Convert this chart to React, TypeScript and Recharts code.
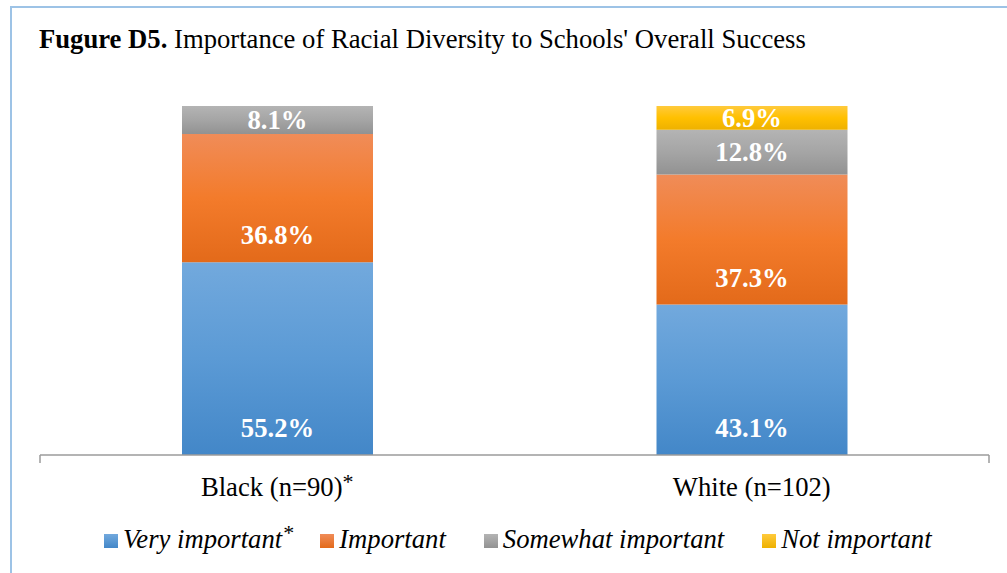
import { BarChart, Bar, XAxis, YAxis, LabelList } from 'recharts'

const groups = ['Black (n=90)', 'White (n=102)']
const groupStars = [true, false]
const veryImportant = [55.2, 43.1]
const important = [36.8, 37.3]
const somewhatImportant = [8.1, 12.8]
const notImportant = [0, 6.9]
const seriesNames = ['Very important', 'Important', 'Somewhat important', 'Not important']
const seriesStars = [true, false, false, false]
const edgeTicks = [0, 1, 2]

const SERIF = '"Liberation Serif", "Times New Roman", serif'
const FS = 26.67

// top / mid / bottom colours of each segment's vertical gradient
const GRADIENTS = [
  { id: 'gBlue', stops: ['#72a9dd', '#5b9ad5', '#4387c8'] },
  { id: 'gOrange', stops: ['#f08c58', '#f37b2b', '#e36a1a'] },
  { id: 'gGray', stops: ['#b4b4b4', '#a5a5a5', '#929292'] },
  { id: 'gYellow', stops: ['#ffca3c', '#ffc000', '#eeb100'] },
]

const data = groups.map((group, i) => ({
  group,
  star: groupStars[i],
  veryImportant: veryImportant[i],
  important: important[i],
  somewhatImportant: somewhatImportant[i],
  notImportant: notImportant[i],
}))

const seriesKeys = ['veryImportant', 'important', 'somewhatImportant', 'notImportant']

function SegmentLabel(props: any) {
  const box = props.viewBox ?? props
  const { x, y, width, height } = box
  const { value } = props
  if (!value) return null
  // Excel "inside base": sit near the bottom, centre when the segment is short
  const cy = Math.max(y + height / 2, y + height - 27)
  return (
    <text
      x={x + width / 2}
      y={cy + 9}
      textAnchor="middle"
      fill="#fff"
      fontFamily={SERIF}
      fontWeight="bold"
      fontSize={FS}
    >
      {value.toFixed(1)}%
    </text>
  )
}

function CategoryTick({ x, y, payload, index }: any) {
  return (
    <text x={x} y={y} dy="0.71em" textAnchor="middle" fill="#000" fontFamily={SERIF} fontSize={FS}>
      {payload.value}
      {groupStars[index] && <tspan dy={-7} fontSize={22}>*</tspan>}
    </text>
  )
}

// edge axis only needs its tick marks, no text
const NoLabel = () => <g />

function LegendBox() {
  return (
    <div
      style={{
        position: 'absolute', left: 104, top: 526, display: 'flex', gap: 38,
        fontFamily: SERIF, fontStyle: 'italic', fontSize: FS, lineHeight: 1, color: '#000',
      }}
    >
      {seriesNames.map((name, i) => (
        <div key={name} style={{ display: 'flex', alignItems: 'flex-start', position: 'relative' }}>
          <span
            style={{
              width: 14, height: 14, marginTop: 8, marginRight: 5, display: 'inline-block',
              background: `linear-gradient(${GRADIENTS[i].stops[0]}, ${GRADIENTS[i].stops[2]})`,
            }}
          />
          <span style={{ whiteSpace: 'nowrap' }}>{name}</span>
          {seriesStars[i] && (
            <span style={{ position: 'absolute', right: -12, top: -4, fontStyle: 'normal', fontSize: 22 }}>*</span>
          )}
        </div>
      ))}
    </div>
  )
}

export default function App() {
  return (
    <div style={{ position: 'relative', width: 1007, height: 573, background: '#fff' }}>
      <style>{'body{margin:0}'}</style>
      <div
        style={{
          position: 'absolute', left: 10, top: 6, right: 0, bottom: 0,
          borderTop: '2px solid #9dc3e6', borderLeft: '2px solid #9dc3e6',
        }}
      />
      <div
        style={{
          position: 'absolute', left: 39, top: 26, fontFamily: SERIF, fontSize: FS,
          lineHeight: 1, color: '#000', whiteSpace: 'nowrap',
        }}
      >
        <b>Fugure D5.</b> Importance of Racial Diversity to Schools' Overall Success
      </div>
      <BarChart
        width={1007}
        height={573}
        data={data}
        margin={{ top: 106, right: 18, left: 40, bottom: 70 }}
        style={{ position: 'absolute', left: 0, top: 0 }}
      >
        <defs>
          {GRADIENTS.map(g => (
            <linearGradient key={g.id} id={g.id} x1="0" y1="0" x2="0" y2="1">
              <stop offset="0%" stopColor={g.stops[0]} />
              <stop offset="50%" stopColor={g.stops[1]} />
              <stop offset="100%" stopColor={g.stops[2]} />
            </linearGradient>
          ))}
        </defs>
        <XAxis
          xAxisId="b"
          dataKey="group"
          axisLine={false}
          tickLine={false}
          tickSize={0}
          tickMargin={14}
          height={40}
          interval={0}
          tick={<CategoryTick />}
        />
        <XAxis
          xAxisId="a"
          type="number"
          domain={[0, 2]}
          ticks={edgeTicks}
          interval={0}
          tick={NoLabel}
          tickSize={8}
          height={8}
          stroke="#9b9b9b"
          strokeWidth={1.5}
        />
        <YAxis hide domain={[0, 100]} allowDataOverflow />
        {seriesKeys.map((key, i) => (
          <Bar
            key={key}
            dataKey={key}
            name={seriesNames[i]}
            stackId="a"
            xAxisId="b"
            barSize={191}
            fill={`url(#${GRADIENTS[i].id})`}
            isAnimationActive={false}
          >
            <LabelList dataKey={key} content={<SegmentLabel />} />
          </Bar>
        ))}
      </BarChart>
      <LegendBox />
    </div>
  )
}
